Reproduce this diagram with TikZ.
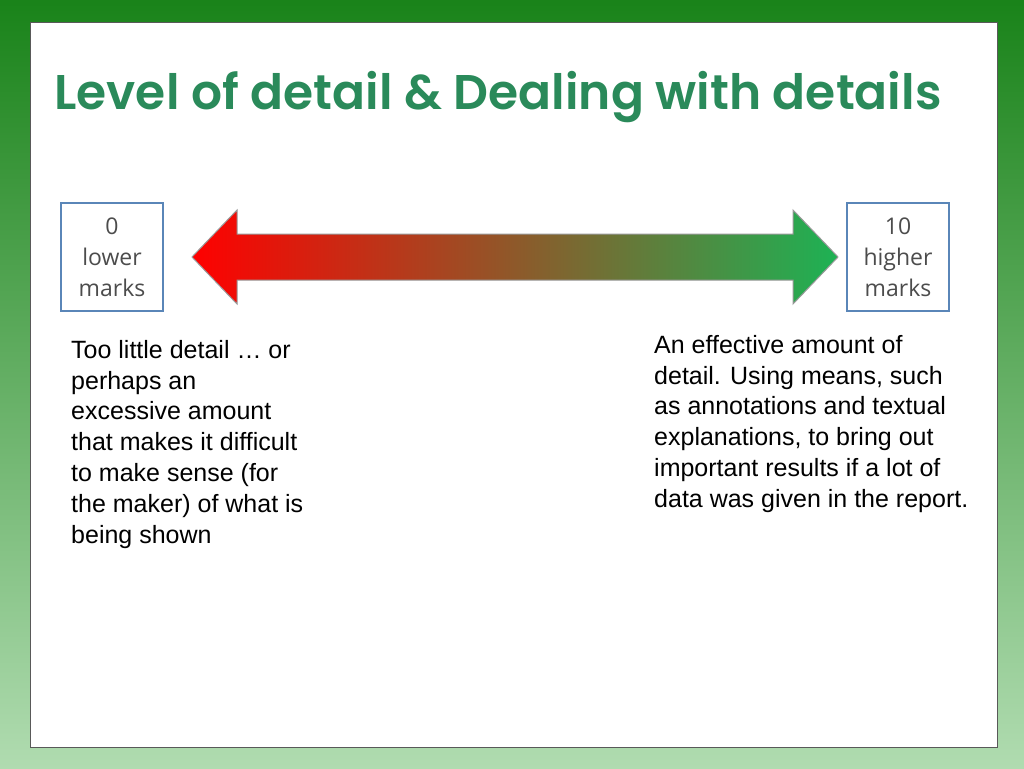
\documentclass[tikz,border=0pt]{standalone}
\usepackage{fontspec}
\setmainfont{Liberation Sans}
\newfontfamily\boxfont{Open Sans}
\newfontfamily\titlefont{Poppins}[UprightFont=* SemiBold]
\usetikzlibrary{shadings}
\definecolor{tgreen}{HTML}{2A8A5A}
\definecolor{bgreen}{HTML}{1E9A1E}
\definecolor{boxblue}{HTML}{5A86B8}
\definecolor{amid}{HTML}{C0803A}
\definecolor{aright}{HTML}{1DB254}
\begin{document}
\begin{tikzpicture}[x=1pt,y=-1pt,
  markbox/.style={draw=boxblue,line width=1.2pt,fill=white,minimum width=102pt,minimum height=108pt,align=center,inner sep=0pt,font=\boxfont\fontsize{23}{31}\selectfont,text=black!70},
  bodytext/.style={anchor=north west,align=left,inner sep=0pt,font=\fontsize{25}{30.8}\selectfont,text=black}]
\useasboundingbox (0,0) rectangle (1024,768);
\shade[top color=bgreen!85!black, bottom color=bgreen!35!white] (0,0) rectangle (1024,768);
\fill[white,draw=gray!70!black,line width=0.8pt] (30,22) rectangle (997,747);
\node[anchor=center] (title) at (498,97) {\resizebox{887pt}{!}{\titlefont\color{tgreen}Level of detail \& Dealing with details}};
\node[markbox] (left) at (112,257) {0\\lower\\marks};
\node[markbox] (right) at (898,257) {10\\higher\\marks};
\shade[left color=red, middle color=amid, right color=aright, draw=black!40, line width=1pt]
  (192,257) -- (237,210) -- (237,234) -- (793,234) -- (793,210) -- (838,257)
  -- (793,304) -- (793,280) -- (237,280) -- (237,304) -- cycle;
\node[bodytext] (lt) at (71,340) {Too little detail … or\\perhaps an\\excessive amount\\that makes it difficult\\to make sense (for\\the maker) of what is\\being shown};
\node[bodytext] (rt) at (654,335) {An effective amount of\\detail. Using means, such\\as annotations and textual\\explanations, to bring out\\important results if a lot of\\data was given in the report.};
\end{tikzpicture}
\end{document}
